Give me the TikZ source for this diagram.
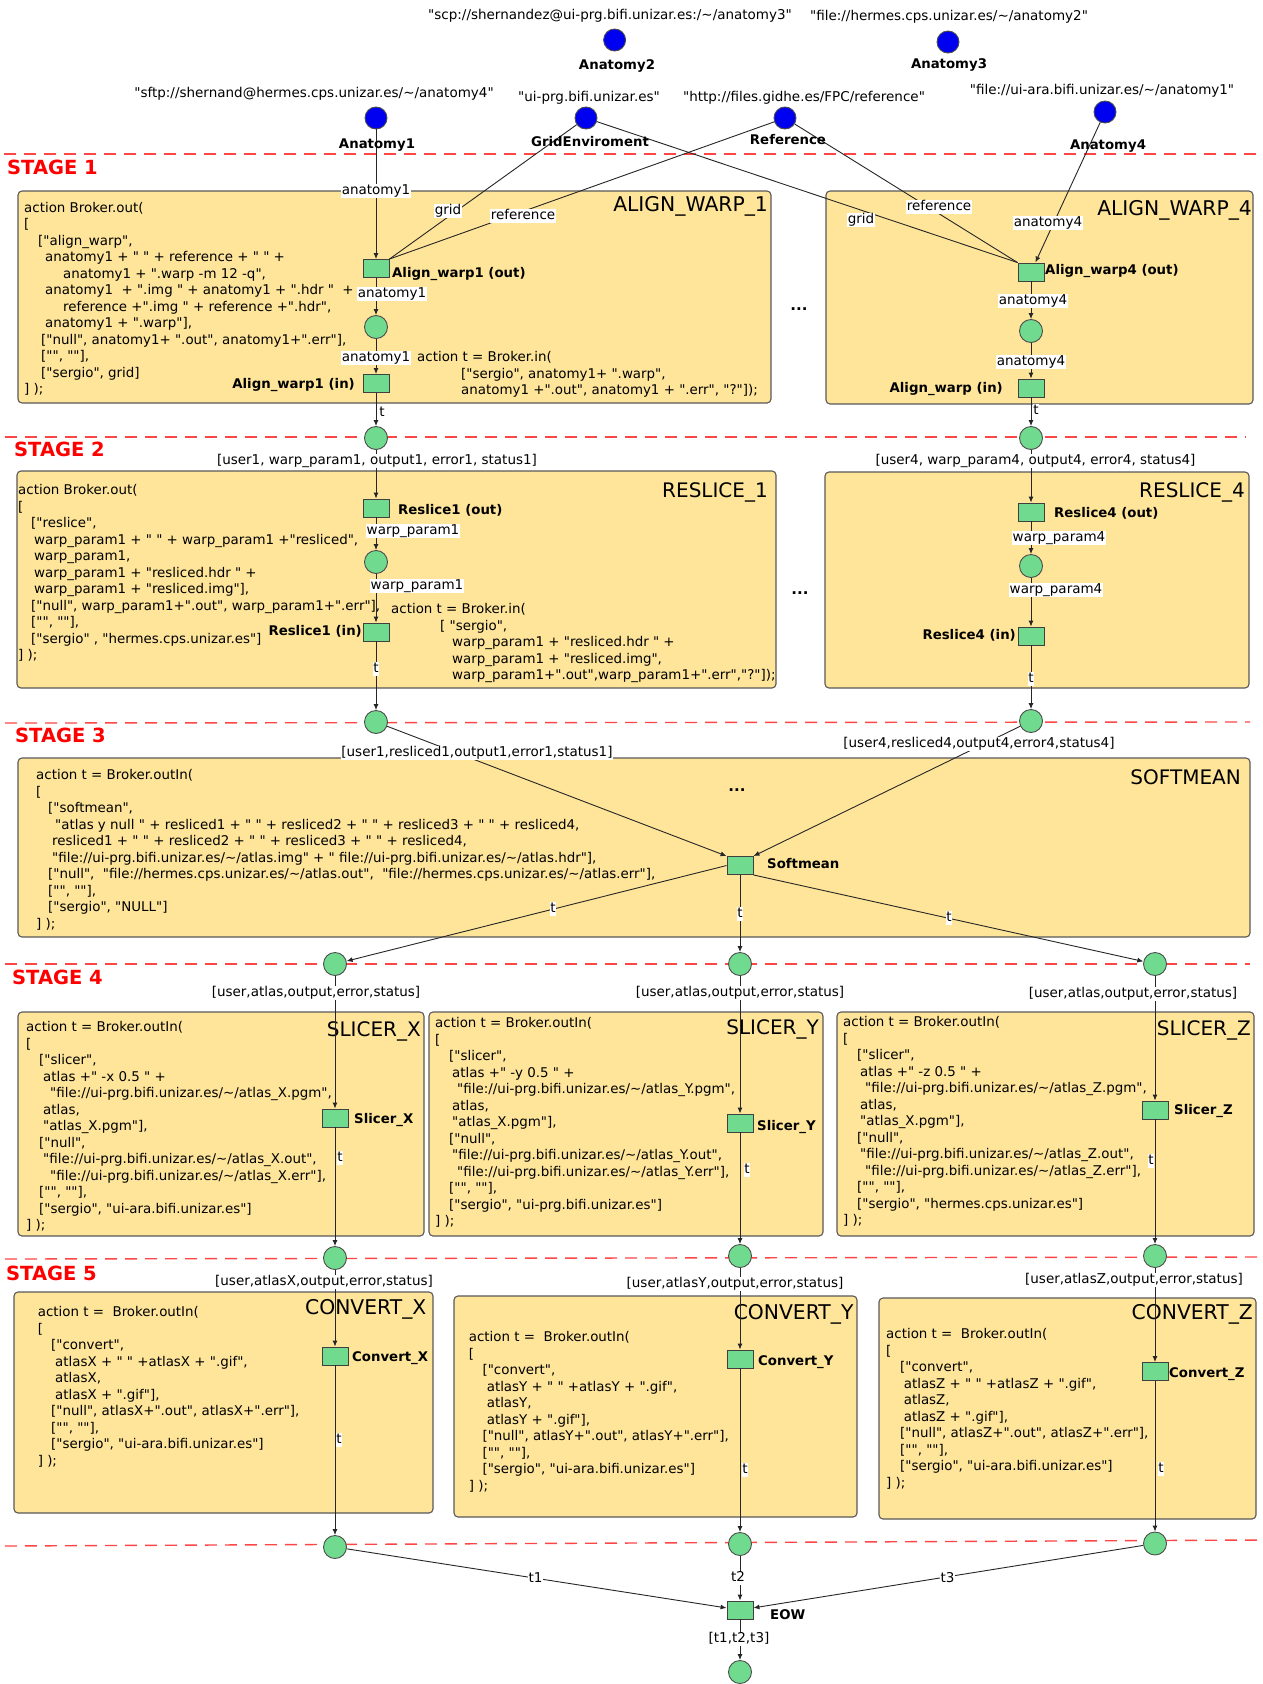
\documentclass[tikz,border=0pt]{standalone}
\usepackage{fontspec}
\newfontfamily\dvs{DejaVu Sans}
\usetikzlibrary{arrows.meta}
\definecolor{boxfill}{RGB}{254,229,154}
\definecolor{petgreen}{RGB}{112,219,143}
\definecolor{stagered}{RGB}{255,70,70}
\definecolor{srcblue}{RGB}{0,0,240}
\newcommand\til{\textasciitilde}
\newcommand\cl[1]{\strut\hspace*{#1pt}}
\tikzset{
  box/.style={draw=black!65, line width=1.1pt, fill=boxfill, rounded corners=4pt},
  pl/.style={circle, draw=black!70, line width=0.9pt, fill=petgreen, minimum size=23pt, inner sep=0pt},
  tr/.style={rectangle, draw=black!75, line width=0.9pt, fill=petgreen, minimum width=26pt, minimum height=18pt, inner sep=0pt},
  srcnode/.style={circle, draw=black!70, line width=0.9pt, fill=srcblue, minimum size=22pt, inner sep=0pt},
  conn/.style={draw=black!85, line width=0.9pt, -{Latex[length=6pt,width=5pt]}},
  connplain/.style={draw=black!85, line width=0.9pt},
  lbl/.style={fill=white, inner sep=0.8pt, text height=9.8pt, text depth=3pt, font=\dvs\fontsize{13.5}{16}\selectfont},
  urltxt/.style={inner sep=0pt, text height=9.8pt, text depth=3pt, font=\dvs\fontsize{13.5}{16}\selectfont},
  tname/.style={inner sep=0pt, font=\dvs\bfseries\fontsize{13.3}{16}\selectfont},
  boxtitle/.style={inner sep=0pt, anchor=base east, font=\dvs\fontsize{20}{23}\selectfont},
  widetitle/.style={boxtitle, font=\dvs\fontsize{20.3}{23}\selectfont},
  stagetxt/.style={inner sep=0pt, anchor=base west, text=red, font=\dvs\bfseries\fontsize{19.5}{22}\selectfont},
  stageline/.style={draw=stagered, line width=1.4pt, dash pattern=on 12pt off 8pt},
  codeblk/.style={inner sep=0pt, anchor=north west, align=left, font=\dvs\fontsize{13.4}{16.5}\selectfont},
  ellip/.style={inner sep=0pt, font=\dvs\bfseries\fontsize{15}{18}\selectfont},
}
\begin{document}
\begin{tikzpicture}[x=1pt,y=-1pt]
\fill[white] (0,0) rectangle (1263,1684);
\useasboundingbox (0,0) rectangle (1263,1684);

% ---------- task boxes ----------
\draw[box] (18,191) rectangle (771,403);
\draw[box] (826,191) rectangle (1253,404);
\draw[box] (17,471) rectangle (776,688);
\draw[box] (825,472) rectangle (1249,688);
\draw[box] (18,758) rectangle (1250,937);
\draw[box] (18,1012) rectangle (424,1236);
\draw[box] (429,1012) rectangle (823,1236);
\draw[box] (837,1012) rectangle (1254,1236);
\draw[box] (14,1292) rectangle (433,1513);
\draw[box] (454,1296) rectangle (857,1517);
\draw[box] (879,1298) rectangle (1256,1519);

% ---------- stage separators ----------
\draw[stageline] (4,154) -- (1260,154);
\draw[stageline] (5,437) -- (1246,437);
\draw[stageline] (5,723) -- (1250,722);
\draw[stageline] (5,964) -- (1250,964);
\draw[stageline] (5,1259) -- (1263,1257);
\draw[stageline] (5,1546) -- (1263,1540);
\node[stagetxt] (st1) at (7,174) {STAGE 1};
\node[stagetxt] (st2) at (14,456) {STAGE 2};
\node[stagetxt] (st3) at (15,742) {STAGE 3};
\node[stagetxt] (st4) at (12,984) {STAGE 4};
\node[stagetxt] (st5) at (6,1280) {STAGE 5};

% ---------- box titles ----------
\node[widetitle] (ttl-aw1) at (768,211) {ALIGN\_WARP\_1};
\node[widetitle] (ttl-aw4) at (1252,215) {ALIGN\_WARP\_4};
\node[boxtitle] (ttl-rs1) at (768,497) {RESLICE\_1};
\node[boxtitle] (ttl-rs4) at (1245,497) {RESLICE\_4};
\node[boxtitle] (ttl-sm) at (1241,784) {SOFTMEAN};
\node[boxtitle] (ttl-slx) at (421,1036) {SLICER\_X};
\node[boxtitle] (ttl-sly) at (819,1034) {SLICER\_Y};
\node[boxtitle] (ttl-slz) at (1251,1035) {SLICER\_Z};
\node[widetitle] (ttl-cvx) at (426.5,1314) {CONVERT\_X};
\node[widetitle] (ttl-cvy) at (853.6,1319) {CONVERT\_Y};
\node[widetitle] (ttl-cvz) at (1253,1319) {CONVERT\_Z};

% ---------- action code ----------
\node[codeblk] (code-aw1a) at (24,200.3) {%
\cl{0}action Broker.out(\\
\cl{0}[\\
\cl{14}["align\_warp",\\
\cl{21}anatomy1 + " " + reference + " " +\\
\cl{39}anatomy1 + ".warp -m 12 -q",\\
\cl{21}anatomy1 \ + ".img " + anatomy1 + ".hdr " \ +\\
\cl{39}reference +".img " + reference +".hdr",\\
\cl{21}anatomy1 + ".warp"],\\
\cl{17}["null", anatomy1+ ".out", anatomy1+".err"],\\
\cl{17}["", ""],\\
\cl{17}["sergio", grid]\\
\cl{0}] );};

\node[codeblk] (code-aw1b) at (417,350) {%
\cl{0}action t = Broker.in(\\
\cl{44}["sergio", anatomy1+ ".warp",\\
\cl{44}anatomy1 +".out", anatomy1 + ".err", "?"]);};

\node[codeblk] (code-rs1a) at (18,483) {%
\cl{0}action Broker.out(\\
\cl{0}[\\
\cl{13}["reslice",\\
\cl{16}warp\_param1 + " " + warp\_param1 +"resliced",\\
\cl{16}warp\_param1,\\
\cl{16}warp\_param1 + "resliced.hdr " +\\
\cl{16}warp\_param1 + "resliced.img"],\\
\cl{13}["null", warp\_param1+".out", warp\_param1+".err"],\\
\cl{13}["", ""],\\
\cl{13}["sergio" , "hermes.cps.unizar.es"]\\
\cl{0}] );};

\node[codeblk] (code-rs1b) at (391,602) {%
\cl{0}action t = Broker.in(\\
\cl{49}[ "sergio",\\
\cl{61}warp\_param1 + "resliced.hdr " +\\
\cl{61}warp\_param1 + "resliced.img",\\
\cl{61}warp\_param1+".out",warp\_param1+".err","?"]);};

\node[codeblk] (code-sm) at (36,768) {%
\cl{0}action t = Broker.outIn(\\
\cl{0}[\\
\cl{12}["softmean",\\
\cl{19}"atlas y null " + resliced1 + " " + resliced2 + " " + resliced3 + " " + resliced4,\\
\cl{16}resliced1 + " " + resliced2 + " " + resliced3 + " " + resliced4,\\
\cl{16}"file://ui-prg.bifi.unizar.es/\til/atlas.img" + " file://ui-prg.bifi.unizar.es/\til/atlas.hdr"],\\
\cl{12}["null", \ "file://hermes.cps.unizar.es/\til/atlas.out", \ "file://hermes.cps.unizar.es/\til/atlas.err"],\\
\cl{12}["", ""],\\
\cl{12}["sergio", "NULL"]\\
\cl{0}] );};

\node[codeblk] (code-slx) at (26,1020) {%
\cl{0}action t = Broker.outIn(\\
\cl{0}[\\
\cl{13}["slicer",\\
\cl{17}atlas +" -x 0.5 " +\\
\cl{24}"file://ui-prg.bifi.unizar.es/\til/atlas\_X.pgm",\\
\cl{17}atlas,\\
\cl{17}"atlas\_X.pgm"],\\
\cl{13}["null",\\
\cl{17}"file://ui-prg.bifi.unizar.es/\til/atlas\_X.out",\\
\cl{24}"file://ui-prg.bifi.unizar.es/\til/atlas\_X.err"],\\
\cl{13}["", ""],\\
\cl{13}["sergio", "ui-ara.bifi.unizar.es"]\\
\cl{0}] );};

\node[codeblk] (code-sly) at (435,1016) {%
\cl{0}action t = Broker.outIn(\\
\cl{0}[\\
\cl{14}["slicer",\\
\cl{17}atlas +" -y 0.5 " +\\
\cl{22}"file://ui-prg.bifi.unizar.es/\til/atlas\_Y.pgm",\\
\cl{17}atlas,\\
\cl{17}"atlas\_X.pgm"],\\
\cl{14}["null",\\
\cl{17}"file://ui-prg.bifi.unizar.es/\til/atlas\_Y.out",\\
\cl{22}"file://ui-prg.bifi.unizar.es/\til/atlas\_Y.err"],\\
\cl{14}["", ""],\\
\cl{14}["sergio", "ui-prg.bifi.unizar.es"]\\
\cl{0}] );};

\node[codeblk] (code-slz) at (843,1015) {%
\cl{0}action t = Broker.outIn(\\
\cl{0}[\\
\cl{14}["slicer",\\
\cl{17}atlas +" -z 0.5 " +\\
\cl{22}"file://ui-prg.bifi.unizar.es/\til/atlas\_Z.pgm",\\
\cl{17}atlas,\\
\cl{17}"atlas\_X.pgm"],\\
\cl{14}["null",\\
\cl{17}"file://ui-prg.bifi.unizar.es/\til/atlas\_Z.out",\\
\cl{22}"file://ui-prg.bifi.unizar.es/\til/atlas\_Z.err"],\\
\cl{14}["", ""],\\
\cl{14}["sergio", "hermes.cps.unizar.es"]\\
\cl{0}] );};

\node[codeblk] (code-cvx) at (37.6,1305) {%
\cl{0}action t = \ Broker.outIn(\\
\cl{0}[\\
\cl{13.4}["convert",\\
\cl{17.4}atlasX + " " +atlasX + ".gif",\\
\cl{17.4}atlasX,\\
\cl{17.4}atlasX + ".gif"],\\
\cl{13.4}["null", atlasX+".out", atlasX+".err"],\\
\cl{13.4}["", ""],\\
\cl{13.4}["sergio", "ui-ara.bifi.unizar.es"]\\
\cl{0}] );};

\node[codeblk] (code-cvy) at (468.6,1330) {%
\cl{0}action t = \ Broker.outIn(\\
\cl{0}[\\
\cl{13.8}["convert",\\
\cl{18}atlasY + " " +atlasY + ".gif",\\
\cl{18}atlasY,\\
\cl{18}atlasY + ".gif"],\\
\cl{13.8}["null", atlasY+".out", atlasY+".err"],\\
\cl{13.8}["", ""],\\
\cl{13.8}["sergio", "ui-ara.bifi.unizar.es"]\\
\cl{0}] );};

\node[codeblk] (code-cvz) at (886,1327) {%
\cl{0}action t = \ Broker.outIn(\\
\cl{0}[\\
\cl{14}["convert",\\
\cl{17.6}atlasZ + " " +atlasZ + ".gif",\\
\cl{17.6}atlasZ,\\
\cl{17.6}atlasZ + ".gif"],\\
\cl{14}["null", atlasZ+".out", atlasZ+".err"],\\
\cl{14}["", ""],\\
\cl{14}["sergio", "ui-ara.bifi.unizar.es"]\\
\cl{0}] );};

\node[ellip] (dots1) at (799,309) {...};
\node[ellip] (dots2) at (800,593) {...};
\node[ellip] (dots3) at (737,790) {...};

% ---------- data sources ----------
\node[srcnode] (anat1) at (376,118) {};
\node[srcnode] (anat2) at (614.6,40) {};
\node[srcnode] (anat3) at (948,42) {};
\node[srcnode] (gridenv) at (586,118) {};
\node[srcnode] (refsrc) at (785,118) {};
\node[srcnode] (anat4) at (1105,112) {};

% ---------- places and transitions ----------
\node[tr] (aw1out) at (376,268.5) {};
\node[pl] (aw1p) at (376,327) {};
\node[tr] (aw1in) at (376,383.5) {};
\node[pl] (s2p1) at (376,438) {};
\node[tr] (rs1out) at (376,508) {};
\node[pl] (rs1p) at (376,562) {};
\node[tr] (rs1in) at (376,632) {};
\node[pl] (s3p1) at (376,722) {};

\node[tr] (aw4out) at (1031,272) {};
\node[pl] (aw4p) at (1031,331) {};
\node[tr] (aw4in) at (1031,388) {};
\node[pl] (s2p4) at (1031,438) {};
\node[tr] (rs4out) at (1031,512) {};
\node[pl] (rs4p) at (1031,566) {};
\node[tr] (rs4in) at (1031,636) {};
\node[pl] (s3p4) at (1031,721) {};

\node[tr] (softmean) at (740,865.5) {};

\node[pl] (s4x) at (335,964) {};
\node[pl] (s4y) at (740,964) {};
\node[pl] (s4z) at (1155,964) {};
\node[tr] (slx) at (335,1118) {};
\node[tr] (sly) at (740,1123) {};
\node[tr] (slz) at (1155,1110) {};
\node[pl] (s5x) at (335,1258) {};
\node[pl] (s5y) at (740,1256) {};
\node[pl] (s5z) at (1155,1256) {};
\node[tr] (cvx) at (335,1356) {};
\node[tr] (cvy) at (740,1359) {};
\node[tr] (cvz) at (1155,1371.5) {};
\node[pl] (s6x) at (335,1547) {};
\node[pl] (s6y) at (740,1544) {};
\node[pl] (s6z) at (1155,1543.5) {};
\node[tr] (eow) at (740,1610) {};
\node[pl] (final) at (740,1672) {};

% ---------- arcs ----------
\draw[conn] (anat1) -- (aw1out);
\draw[connplain] (gridenv) -- (aw1out.north east);
\draw[connplain] (refsrc) -- (aw1out.north east);
\draw[connplain] (gridenv) -- (aw4out.north west);
\draw[connplain] (refsrc) -- (aw4out.north west);
\draw[conn] (anat4) -- (aw4out);

\draw[conn] (aw1out) -- (aw1p);
\draw[conn] (aw1p) -- (aw1in);
\draw[conn] (aw1in) -- (s2p1);
\draw[conn] (s2p1) -- (rs1out);
\draw[conn] (rs1out) -- (rs1p);
\draw[conn] (rs1p) -- (rs1in);
\draw[conn] (rs1in) -- (s3p1);

\draw[conn] (aw4out) -- (aw4p);
\draw[conn] (aw4p) -- (aw4in);
\draw[conn] (aw4in) -- (s2p4);
\draw[conn] (s2p4) -- (rs4out);
\draw[conn] (rs4out) -- (rs4p);
\draw[conn] (rs4p) -- (rs4in);
\draw[conn] (rs4in) -- (s3p4);

\draw[conn] (s3p1) -- (softmean.north west);
\draw[conn] (s3p4) -- (softmean.north east);
\draw[conn] (softmean.west) -- (s4x);
\draw[conn] (softmean) -- (s4y);
\draw[conn] (softmean.south east) -- (s4z);

\draw[conn] (s4x) -- (slx);
\draw[conn] (slx) -- (s5x);
\draw[conn] (s5x) -- (cvx);
\draw[conn] (cvx) -- (s6x);
\draw[conn] (s4y) -- (sly);
\draw[conn] (sly) -- (s5y);
\draw[conn] (s5y) -- (cvy);
\draw[conn] (cvy) -- (s6y);
\draw[conn] (s4z) -- (slz);
\draw[conn] (slz) -- (s5z);
\draw[conn] (s5z) -- (cvz);
\draw[conn] (cvz) -- (s6z);

\draw[conn] (s6x) -- (eow);
\draw[conn] (s6y) -- (eow);
\draw[conn] (s6z) -- (eow);
\draw[conn] (eow) -- (final);

% ---------- arc inscriptions ----------
\node[lbl] (l-a1) at (376,191) {anatomy1};
\node[lbl] (l-g1) at (448,211) {grid};
\node[lbl] (l-r1) at (523,216) {reference};
\node[lbl] (l-g4) at (861,220) {grid};
\node[lbl] (l-r4) at (939,207) {reference};
\node[lbl] (l-a4) at (1048,223) {anatomy4};
\node[lbl] (l-aw1a) at (392,294) {anatomy1};
\node[lbl] (l-aw1b) at (376,358) {anatomy1};
\node[lbl] (l-aw1t) at (382,413) {t};
\node[lbl] (l-aw4a) at (1033,301) {anatomy4};
\node[lbl] (l-aw4b) at (1031,362) {anatomy4};
\node[lbl] (l-aw4t) at (1036,411) {t};

\node[lbl] (l-s2p1) at (377,461) {[user1, warp\_param1, output1, error1, status1]};
\node[lbl] (l-rs1a) at (413,531) {warp\_param1};
\node[lbl] (l-rs1b) at (417,586) {warp\_param1};
\node[lbl] (l-rs1t) at (376,669) {t};
\node[lbl] (l-s2p4) at (1035.5,461) {[user4, warp\_param4, output4, error4, status4]};
\node[lbl] (l-rs4a) at (1059,538) {warp\_param4};
\node[lbl] (l-rs4b) at (1056,590) {warp\_param4};
\node[lbl] (l-rs4t) at (1031,679) {t};

\node[lbl] (l-s3p1) at (477,753) {[user1,resliced1,output1,error1,status1]};
\node[lbl] (l-s3p4) at (979,744) {[user4,resliced4,output4,error4,status4]};
\node[lbl] (l-smx) at (553,909) {t};
\node[lbl] (l-smy) at (740,914) {t};
\node[lbl] (l-smz) at (949,918) {t};

\node[lbl] (l-s4x) at (316,993) {[user,atlas,output,error,status]};
\node[lbl] (l-s4y) at (740,993) {[user,atlas,output,error,status]};
\node[lbl] (l-s4z) at (1133,994) {[user,atlas,output,error,status]};
\node[lbl] (l-slx) at (340,1158) {t};
\node[lbl] (l-sly) at (747,1170) {t};
\node[lbl] (l-slz) at (1151,1161) {t};

\node[lbl] (l-s5x) at (324,1282) {[user,atlasX,output,error,status]};
\node[lbl] (l-s5y) at (735,1284) {[user,atlasY,output,error,status]};
\node[lbl] (l-s5z) at (1134,1280) {[user,atlasZ,output,error,status]};
\node[lbl] (l-cvx) at (339,1440) {t};
\node[lbl] (l-cvy) at (745,1470) {t};
\node[lbl] (l-cvz) at (1161,1469) {t};

\node[lbl] (l-t1) at (535.5,1579) {t1};
\node[lbl] (l-t2) at (738,1578) {t2};
\node[lbl] (l-t3) at (947.6,1579) {t3};
\node[lbl] (l-eow) at (739,1639) {[t1,t2,t3]};

% ---------- transition names ----------
\node[tname, anchor=base west] (n-aw1out) at (392,277) {Align\_warp1 (out)};
\node[tname, anchor=base east] (n-aw1in) at (355,388) {Align\_warp1 (in)};
\node[tname, anchor=base west] (n-aw4out) at (1045,274) {Align\_warp4 (out)};
\node[tname, anchor=base east] (n-aw4in) at (1003,392) {Align\_warp (in)};
\node[tname, anchor=base west] (n-rs1out) at (398,514) {Reslice1 (out)};
\node[tname, anchor=base east] (n-rs1in) at (362,635) {Reslice1 (in)};
\node[tname, anchor=base west] (n-rs4out) at (1054,517) {Reslice4 (out)};
\node[tname, anchor=base east] (n-rs4in) at (1016,639) {Reslice4 (in)};
\node[tname, anchor=base west] (n-sm) at (767,868) {Softmean};
\node[tname, anchor=base west] (n-slx) at (354,1123) {Slicer\_X};
\node[tname, anchor=base west] (n-sly) at (757,1130) {Slicer\_Y};
\node[tname, anchor=base west] (n-slz) at (1174,1114) {Slicer\_Z};
\node[tname, anchor=base west] (n-cvx) at (352,1361) {Convert\_X};
\node[tname, anchor=base west] (n-cvy) at (758,1365) {Convert\_Y};
\node[tname, anchor=base west] (n-cvz) at (1169,1377) {Convert\_Z};
\node[tname, anchor=base west] (n-eow) at (770,1619) {EOW};

% ---------- source names and locations ----------
\node[tname, anchor=base] (n-anat1) at (377,148) {Anatomy1};
\node[tname, anchor=base] (n-anat2) at (617,69.5) {Anatomy2};
\node[tname, anchor=base] (n-anat3) at (949,68.5) {Anatomy3};
\node[tname, anchor=base] (n-grid) at (590,146.7) {GridEnviroment};
\node[tname, anchor=base] (n-ref) at (788,144) {Reference};
\node[tname, anchor=base] (n-anat4) at (1108,149) {Anatomy4};

\node[urltxt] (u-anat2) at (610,16) {"scp://shernandez@ui-prg.bifi.unizar.es:/\til/anatomy3"};
\node[urltxt] (u-anat3) at (949,17) {"file://hermes.cps.unizar.es/\til/anatomy2"};
\node[urltxt] (u-anat1) at (314,94) {"sftp://shernand@hermes.cps.unizar.es/\til/anatomy4"};
\node[urltxt] (u-grid) at (589,98) {"ui-prg.bifi.unizar.es"};
\node[urltxt] (u-ref) at (804,98) {"http://files.gidhe.es/FPC/reference"};
\node[urltxt] (u-anat4) at (1102,91) {"file://ui-ara.bifi.unizar.es/\til/anatomy1"};
\end{tikzpicture}
\end{document}
